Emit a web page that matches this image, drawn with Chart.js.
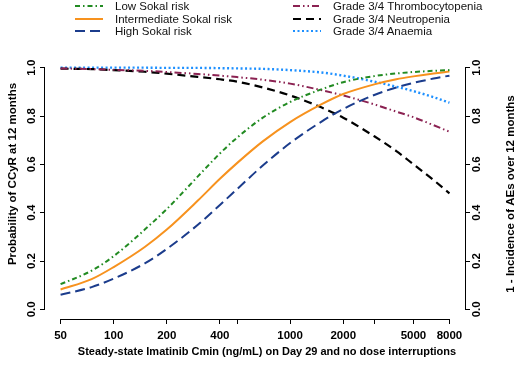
<!DOCTYPE html>
<html>
<head>
<meta charset="utf-8">
<script src="https://cdn.jsdelivr.net/npm/chart.js@4.4.1/dist/chart.umd.min.js"></script>
<style>
  body { margin: 0; background: #fff; }
  #wrap { position: relative; width: 520px; height: 368px; }
  .key { position: absolute; top: 0; font: 11.5px Arial, "Liberation Sans", sans-serif; color: #111; }
  .row { height: 12.5px; line-height: 12.5px; white-space: nowrap; display: flex; align-items: center; }
  .row svg { margin-right: 12px; flex: none; }
</style>
</head>
<body>
<div id="wrap">
  <canvas id="chart" width="520" height="368"></canvas>
  <div class="key" id="keyLeft" style="left:75px"></div>
  <div class="key" id="keyRight" style="left:293px"></div>
</div>
<script>
// Cmin (ng/mL) sample points
const cmin = [50, 75, 100, 150, 200, 300, 400, 500, 700, 1000, 1500, 2000, 3000, 4000, 5000, 6500, 8000]

// probability of CCyR at 12 months (left axis)
const lowSokal = [0.104, 0.16, 0.22, 0.33, 0.415, 0.55, 0.645, 0.71, 0.793, 0.858, 0.91, 0.94, 0.965, 0.976, 0.982, 0.987, 0.99]
const intSokal = [0.082, 0.125, 0.175, 0.258, 0.33, 0.45, 0.54, 0.605, 0.695, 0.775, 0.848, 0.891, 0.931, 0.952, 0.964, 0.976, 0.984]
const highSokal = [0.06, 0.092, 0.127, 0.19, 0.25, 0.35, 0.432, 0.497, 0.595, 0.688, 0.776, 0.829, 0.887, 0.918, 0.937, 0.955, 0.967]

// 1 - incidence of grade 3/4 AEs over 12 months (right axis)
const thrombo = [0.997, 0.994, 0.991, 0.987, 0.982, 0.974, 0.967, 0.961, 0.95, 0.934, 0.907, 0.885, 0.848, 0.818, 0.795, 0.762, 0.735]
const neutro = [0.996, 0.994, 0.99, 0.983, 0.975, 0.962, 0.952, 0.942, 0.918, 0.885, 0.836, 0.793, 0.716, 0.655, 0.60, 0.535, 0.48]
const anaemia = [1.0, 1.0, 1.0, 1.0, 0.999, 0.999, 0.998, 0.997, 0.995, 0.99, 0.98, 0.967, 0.942, 0.921, 0.903, 0.878, 0.855]

// axis ticks (R style: 500 and 3000 get a tick but no label)
const xTicks = [50, 100, 200, 400, 500, 1000, 2000, 3000, 5000, 8000]
const xTickLabels = ["50", "100", "200", "400", "", "1000", "2000", "", "5000", "8000"]
const yTicks = [0, 0.2, 0.4, 0.6, 0.8, 1.0]

const series = [
  { label: "Low Sokal risk", data: lowSokal, color: "#228B22", dash: [5, 3, 1.5, 3], width: 2, axis: "y", key: "keyLeft" },
  { label: "Intermediate Sokal risk", data: intSokal, color: "#F7921E", dash: [], width: 2, axis: "y", key: "keyLeft" },
  { label: "High Sokal risk", data: highSokal, color: "#1B3C8C", dash: [10, 5], width: 2, axis: "y", key: "keyLeft" },
  { label: "Grade 3/4 Thrombocytopenia", data: thrombo, color: "#8B2252", dash: [7, 3, 1.5, 3, 1.5, 3], width: 2, axis: "y2", key: "keyRight" },
  { label: "Grade 3/4 Neutropenia", data: neutro, color: "#000000", dash: [8, 5], width: 2.2, axis: "y2", key: "keyRight" },
  { label: "Grade 3/4 Anaemia", data: anaemia, color: "#1E90FF", dash: [2, 2.5], width: 2.4, axis: "y2", key: "keyRight" },
]

// legend as html, line samples in svg
series.forEach((s) => {
  const row = document.createElement("div")
  row.className = "row"
  row.innerHTML =
    `<svg width="28" height="6"><line x1="0" y1="3" x2="28" y2="3" stroke="${s.color}" stroke-width="2"` +
    ` stroke-dasharray="${s.dash.length ? s.dash.join(" ") : "none"}"/></svg><span>${s.label}</span>`
  document.getElementById(s.key).appendChild(row)
})

const font = "Arial, 'Liberation Sans', sans-serif"

// R-like axes: lines only between first and last tick, rotated y labels, titles
const rAxes = {
  id: "rAxes",
  afterDraw(chart) {
    const { ctx, chartArea: a } = chart
    const { x, y, y2 } = chart.scales
    ctx.save()
    ctx.strokeStyle = "#000"
    ctx.lineWidth = 1
    ctx.beginPath()
    ctx.moveTo(x.getPixelForValue(xTicks[0]), a.bottom + 0.5)
    ctx.lineTo(x.getPixelForValue(xTicks[xTicks.length - 1]), a.bottom + 0.5)
    ctx.moveTo(a.left - 0.5, y.getPixelForValue(yTicks[0]))
    ctx.lineTo(a.left - 0.5, y.getPixelForValue(yTicks[yTicks.length - 1]))
    ctx.moveTo(a.right + 0.5, y2.getPixelForValue(yTicks[0]))
    ctx.lineTo(a.right + 0.5, y2.getPixelForValue(yTicks[yTicks.length - 1]))
    ctx.stroke()

    ctx.fillStyle = "#000"
    ctx.textAlign = "center"
    ctx.textBaseline = "middle"
    ctx.font = "bold 11.5px " + font
    yTicks.forEach((v) => {
      const txt = v.toFixed(1)
      ;[[y, a.left - 13], [y2, a.right + 12]].forEach(([s, px]) => {
        ctx.save()
        ctx.translate(px, s.getPixelForValue(v))
        ctx.rotate(-Math.PI / 2)
        ctx.fillText(txt, 0, 0)
        ctx.restore()
      })
    })

    ctx.font = "bold 11px " + font
    ctx.fillText("Steady-state Imatinib Cmin (ng/mL) on Day 29 and no dose interruptions", 267, 352)
    ctx.font = "bold 11.5px " + font
    ctx.save()
    ctx.translate(13, 174)
    ctx.rotate(-Math.PI / 2)
    ctx.fillText("Probability of CCyR at 12 months", 0, 0)
    ctx.restore()
    ctx.save()
    ctx.translate(511, 194)
    ctx.rotate(-Math.PI / 2)
    ctx.fillText("1 - Incidence of AEs over 12 months", 0, 0)
    ctx.restore()
    ctx.restore()
  },
}

const yAxis = (position, width) => ({
  type: "linear",
  position,
  min: -0.04,
  max: 1.04,
  afterBuildTicks: (s) => { s.ticks = yTicks.map((v) => ({ value: v })) },
  afterFit: (s) => { s.width = width },
  ticks: { display: false },
  grid: { drawOnChartArea: false, drawTicks: true, tickLength: 5, color: "#000", lineWidth: 1 },
  border: { display: false },
})

new Chart(document.getElementById("chart"), {
  type: "line",
  data: {
    datasets: series.map((s) => ({
      label: s.label,
      data: cmin.map((c, i) => ({ x: c, y: s.data[i] })),
      yAxisID: s.axis,
      borderColor: s.color,
      borderDash: s.dash,
      borderWidth: s.width,
      pointRadius: 0,
      fill: false,
      cubicInterpolationMode: "monotone",
    })),
  },
  options: {
    responsive: false,
    devicePixelRatio: 1,
    animation: false,
    layout: { padding: { top: 58, left: 0, right: 0, bottom: 0 } },
    plugins: { legend: { display: false }, tooltip: { enabled: false } },
    scales: {
      x: {
        type: "logarithmic",
        min: 40.8,
        max: 9800,
        afterBuildTicks: (s) => { s.ticks = xTicks.map((v) => ({ value: v })) },
        afterFit: (s) => { s.height = 49 },
        ticks: {
          autoSkip: false,
          maxRotation: 0,
          padding: 5,
          color: "#000",
          font: { family: font, size: 11.5, weight: "bold" },
          callback: (v, i) => xTickLabels[i],
        },
        grid: { drawOnChartArea: false, drawTicks: true, tickLength: 5, color: "#000", lineWidth: 1 },
        border: { display: false },
      },
      y: yAxis("left", 45),
      y2: yAxis("right", 55),
    },
  },
  plugins: [rAxes],
})
</script>
</body>
</html>
